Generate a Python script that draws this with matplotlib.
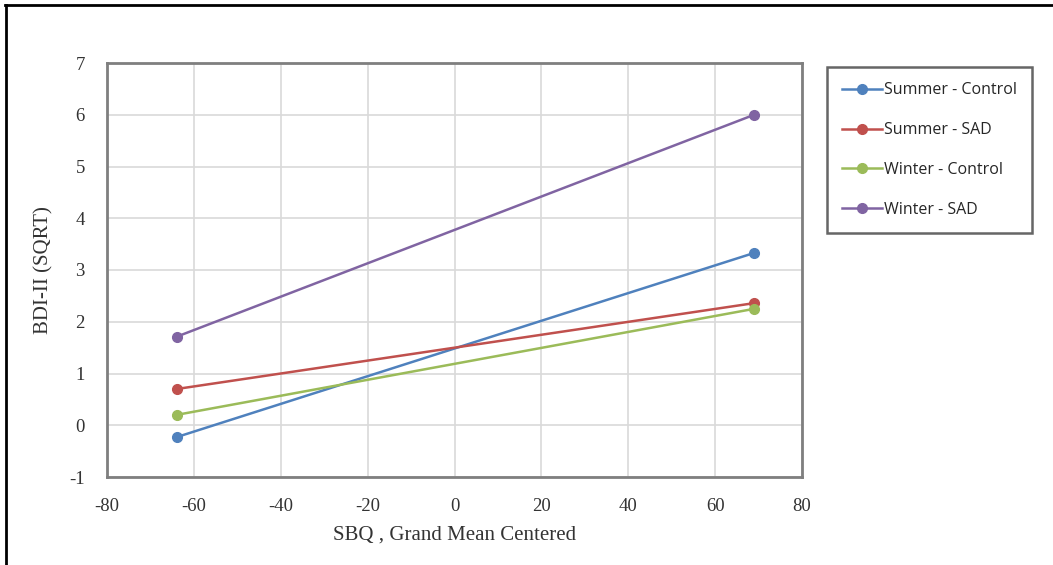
import matplotlib
matplotlib.use("Agg")
import matplotlib.pyplot as plt
from matplotlib.lines import Line2D

plt.rcParams["axes.unicode_minus"] = False

x_vals = [-64, 69]
series_names = ["Summer - Control", "Summer - SAD", "Winter - Control", "Winter - SAD"]
summer_control = [-0.23, 3.33]
summer_sad = [0.70, 2.36]
winter_control = [0.20, 2.25]
winter_sad = [1.71, 6.00]
colors = ["#4F81BD", "#C0504D", "#9BBB59", "#8064A2"]

x_ticks = [-80, -60, -40, -20, 0, 20, 40, 60, 80]
y_ticks = [-1, 0, 1, 2, 3, 4, 5, 6, 7]

fig = plt.figure(figsize=(10.53, 5.65), dpi=100)
ax = fig.add_axes([107/1053, 1-477/565, (802-107)/1053, (477-63)/565])

serif = "Liberation Serif"
sans = "Open Sans"

for name, vals, c in zip(series_names, [summer_control, summer_sad, winter_control, winter_sad], colors):
    ax.plot(x_vals, vals, color=c, lw=1.8, marker="o", ms=7, label=name, zorder=3)

ax.set_xlim(-80, 80)
ax.set_ylim(-1, 7)
ax.set_xticks(x_ticks)
ax.set_yticks(y_ticks)
ax.grid(True, color="#D9D9D9", lw=1.2)
ax.set_axisbelow(True)
ax.tick_params(axis="x", length=0, pad=15, labelsize=13.5, colors="#333333")
ax.tick_params(axis="y", length=0, pad=16, labelsize=13.5, colors="#333333")
for lbl in ax.get_xticklabels() + ax.get_yticklabels():
    lbl.set_fontfamily(serif)
for s in ax.spines.values():
    s.set_color("#7F7F7F")
    s.set_linewidth(2)

ax.set_xlabel("SBQ , Grand Mean Centered", fontfamily=serif, fontsize=15, color="#333333", labelpad=8)
ax.set_ylabel("BDI-II (SQRT)", fontfamily=serif, fontsize=15, color="#333333", labelpad=11)

leg = fig.legend(loc="upper left", bbox_to_anchor=(827/1053, 1-67/565), bbox_transform=fig.transFigure,
                 prop={"family": sans, "size": 11.5}, frameon=True, fancybox=False,
                 handlelength=2.5, handletextpad=0.1, labelspacing=1.5, borderpad=0.95,
                 borderaxespad=0, labelcolor="#262626")
leg.get_frame().set_edgecolor("#404040")
leg.get_frame().set_linewidth(1.8)

# outer border lines (top and left)
fig.add_artist(Line2D([5/1053, 1.0], [1-5/565, 1-5/565], transform=fig.transFigure, color="black", lw=2))
fig.add_artist(Line2D([5.5/1053, 5.5/1053], [0, 1-5/565], transform=fig.transFigure, color="black", lw=2))

fig.savefig("out.png", dpi=100)
